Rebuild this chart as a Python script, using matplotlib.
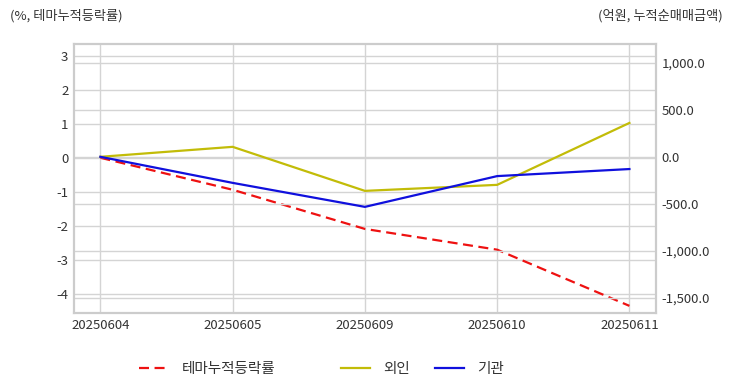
import matplotlib.pyplot as plt
import matplotlib.ticker as ticker

plt.rcParams['font.family'] = ['Noto Sans CJK KR', 'DejaVu Sans']
plt.rcParams['axes.unicode_minus'] = False

dates = ['20250604', '20250605', '20250609', '20250610', '20250611']
theme_rate = [0.0, -0.94, -2.09, -2.70, -4.35]      # %, left axis
foreign = [0.0, 106, -362, -298, 360]               # 억원, right axis
institution = [0.0, -277, -532, -205, -130]         # 억원, right axis

left_ticks = [-4, -3, -2, -1, 0, 1, 2, 3]
right_ticks = [-1500, -1000, -500, 0, 500, 1000]

text_color = '#333333'
grid_color = '#d4d4d4'

fig = plt.figure(figsize=(7.32, 3.92), dpi=100)
ax = fig.add_axes([0.101, 0.2015, 0.795, 0.687])
ax2 = ax.twinx()

x = list(range(len(dates)))

ax.plot(x, theme_rate, color='#ee1111', lw=1.6, ls=(0, (4.5, 2.5)), label='테마누적등락률')
ax2.plot(x, foreign, color='#c2bc08', lw=1.6, label='외인')
ax2.plot(x, institution, color='#1010dd', lw=1.6, label='기관')

ax.set_xlim(-0.2, 4.2)
ax.set_ylim(-4.56, 3.35)
ax2.set_ylim(-1660, 1202)

ax.set_xticks(x)
ax.set_xticklabels(dates)
ax.set_yticks(left_ticks)
ax2.set_yticks(right_ticks)
ax2.yaxis.set_major_formatter(ticker.FuncFormatter(lambda v, p: f'{v:,.1f}'))

for a in (ax, ax2):
    a.tick_params(length=0, labelsize=9.5, colors=text_color, pad=4)
    for s in a.spines.values():
        s.set_color('#cccccc')
        s.set_linewidth(1.5)

ax.grid(True, color=grid_color, lw=1)
ax2.grid(True, axis='y', color=grid_color, lw=1)
ax.set_axisbelow(True)
ax2.set_axisbelow(True)

fig.text(0.013, 0.96, '(%, 테마누적등락률)', fontsize=9.5, color=text_color, va='center')
fig.text(0.987, 0.96, '(억원, 누적순매매금액)', fontsize=9.5, color=text_color,
         va='center', ha='right')

h1, l1 = ax.get_legend_handles_labels()
h2, l2 = ax2.get_legend_handles_labels()
leg_kw = dict(frameon=False, fontsize=10.5, handlelength=2.0, handletextpad=0.9,
              borderpad=0, borderaxespad=0, labelcolor=text_color)
fig.legend(h1, l1, loc='center left', bbox_to_anchor=(139 / 732, 1 - 369 / 392), **leg_kw)
fig.legend(h2, l2, loc='center left', bbox_to_anchor=(341 / 732, 1 - 369 / 392),
           ncol=2, columnspacing=1.7, **leg_kw)

plt.savefig('out.png', dpi=100)
